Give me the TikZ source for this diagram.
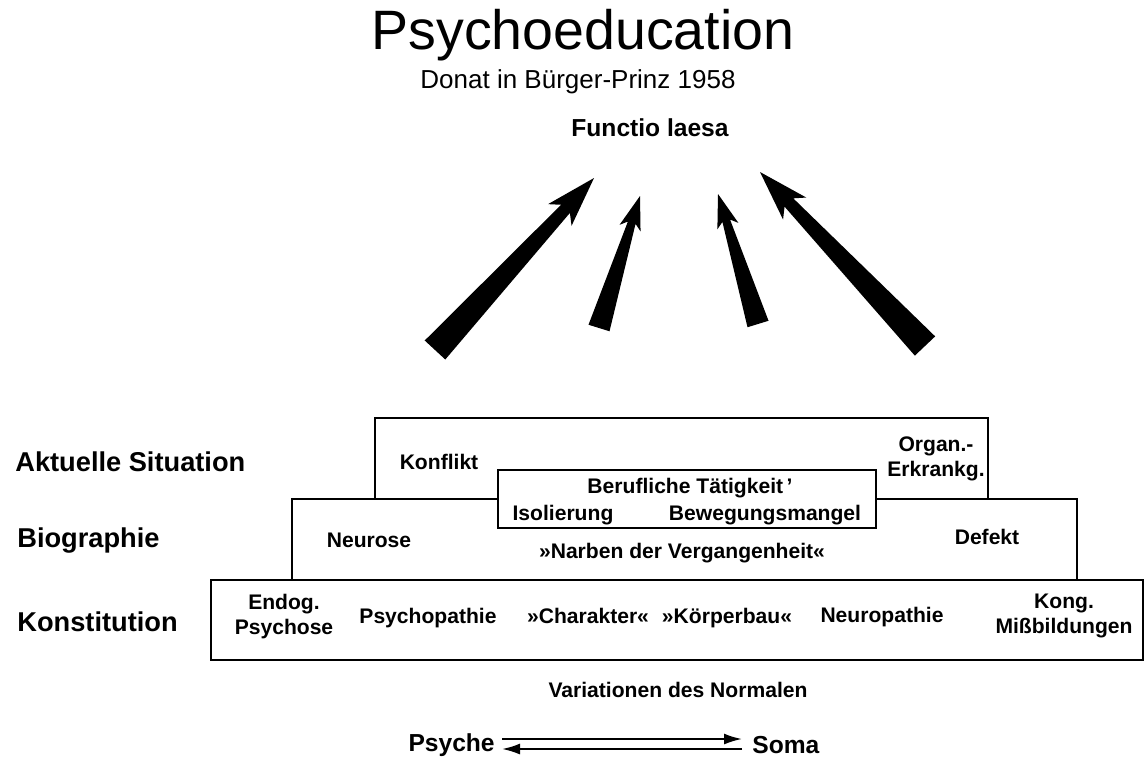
\documentclass[tikz,border=0pt]{standalone}
\usepackage{fontspec}
\setmainfont{Liberation Sans}
\setsansfont{Liberation Sans}
\usetikzlibrary{calc}
\usetikzlibrary{arrows.meta}

% tapered arrow: tail, tip, tail half width, neck half width, head half width, head length
\newcommand{\taperarrow}[6]{%
	\coordinate (hb) at ($(#2)!#6!(#1)$);
	\coordinate (hw) at ($(#2)!1.2!(hb)$);
	\fill ($(#1)!#3!90:(#2)$) -- ($(hb)!#4!-90:(#1)$) -- ($(hw)!#5!-90:(#1)$) -- (#2)
		-- ($(hw)!#5!90:(#1)$) -- ($(hb)!#4!90:(#1)$) -- ($(#1)!#3!-90:(#2)$) -- cycle;
}

\begin{document}
\begin{tikzpicture}[x = 0.02cm, y = -0.02cm, font=\sffamily]
	\tikzstyle{titleStyle} = [font = \sffamily\fontsize{31.6}{36}\selectfont, inner sep = 0pt]
	\tikzstyle{rowStyle} = [font = \sffamily\bfseries\fontsize{15.5}{18}\selectfont, anchor = west, inner sep = 0pt]
	\tikzstyle{itemStyle} = [font = \sffamily\bfseries\fontsize{12}{14.2}\selectfont, align = center, inner sep = 0pt]
	\tikzstyle{layerStyle} = [draw, line width = 1.6pt, fill = white]
	\tikzstyle{flowStyle} = [line width = 1.1pt, -{Latex[length = 0.36cm, width = 0.22cm]}]
	\useasboundingbox (0,0) rectangle (1145,761);
	\node[titleStyle] (title) at (583,35) {Psychoeducation};
	\node[font = \sffamily\fontsize{14.8}{18}\selectfont, inner sep = 0pt] (source) at (578,82) {Donat in Bürger-Prinz 1958};
	\node[font = \sffamily\bfseries\fontsize{14}{17}\selectfont, inner sep = 0pt] (functio) at (650,128) {Functio laesa};
	% the four arrows
	\coordinate (a1t) at (435,350);
	\coordinate (a1h) at (594,178);
	\coordinate (a2t) at (599,328);
	\coordinate (a2h) at (640,196);
	\coordinate (a3t) at (758,324);
	\coordinate (a3h) at (718,194);
	\coordinate (a4t) at (925,346);
	\coordinate (a4h) at (760,172);
	\taperarrow{a1t}{a1h}{0.28cm}{0.12cm}{0.32cm}{0.84cm}
	\taperarrow{a2t}{a2h}{0.22cm}{0.08cm}{0.22cm}{0.56cm}
	\taperarrow{a3t}{a3h}{0.22cm}{0.08cm}{0.22cm}{0.56cm}
	\taperarrow{a4t}{a4h}{0.28cm}{0.12cm}{0.32cm}{0.84cm}
	% layers
	\draw[layerStyle] (211,580) rectangle (1143,660);
	\draw[layerStyle] (292,499) rectangle (1077,580);
	\draw[layerStyle] (375,418) rectangle (988,499);
	\draw[layerStyle] (498,470) rectangle (876,528);
	\node[rowStyle] (akt) at (15,462) {Aktuelle Situation};
	\node[rowStyle] (bio) at (17,541) {Biographie};
	\node[rowStyle] (kon) at (17,622) {Konstitution};
	\node[itemStyle] (konflikt) at (439,462) {Konflikt};
	\node[itemStyle] (organ) at (936,459) {Organ.-\\Erkrankg.};
	\node[itemStyle] (beruf) at (690,488) {Berufliche Tätigkeit\,'};
	\node[itemStyle] (isol) at (563,515) {Isolierung};
	\node[itemStyle] (beweg) at (765,515) {Bewegungsmangel};
	\node[itemStyle] (neurose) at (369,540) {Neurose};
	\node[itemStyle] (narben) at (682,553) {»Narben der Vergangenheit«};
	\node[itemStyle] (defekt) at (987,537) {Defekt};
	\node[itemStyle] (endog) at (284,617) {Endog.\\Psychose};
	\node[itemStyle, anchor = base] (psychop) at (428,623) {Psychopathie};
	\node[itemStyle, anchor = base] (charakter) at (588,623) {»Charakter«};
	\node[itemStyle, anchor = base] (koerper) at (727,623) {»Körperbau«};
	\node[itemStyle, anchor = base] (neurop) at (882,622) {Neuropathie};
	\node[itemStyle] (kong) at (1064,616) {Kong.\\Mißbildungen};
	\node[itemStyle] (normal) at (678,690) {Variationen des Normalen};
	% psyche - soma
	\node[rowStyle, font = \sffamily\bfseries\fontsize{14}{17}\selectfont, anchor = east] (psyche) at (495,745) {Psyche};
	\node[rowStyle, font = \sffamily\bfseries\fontsize{14}{17}\selectfont] (soma) at (752,745) {Soma};
	\coordinate (p1) at (502,739);
	\coordinate (s1) at (742,739);
	\coordinate (p2) at (502,749);
	\coordinate (s2) at (742,749);
	\draw[flowStyle] (p1) -- (s1);
	\draw[flowStyle] (s2) -- (p2);
\end{tikzpicture}
\end{document}
